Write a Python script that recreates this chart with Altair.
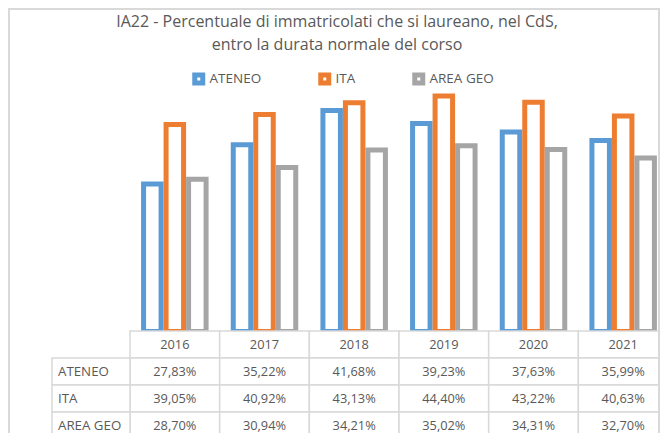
import altair as alt
import pandas as pd

# ---- data ----
years = ["2016", "2017", "2018", "2019", "2020", "2021"]
series = ["ATENEO", "ITA", "AREA GEO"]
ateneo = [27.83, 35.22, 41.68, 39.23, 37.63, 35.99]
ita = [39.05, 40.92, 43.13, 44.40, 43.22, 40.63]
area_geo = [28.70, 30.94, 34.21, 35.02, 34.31, 32.70]
colors = ["#5b9bd5", "#ed7d31", "#a5a5a5"]
title_lines = [
    "IA22 - Percentuale di immatricolati che si laureano, nel CdS,",
    "entro la durata normale del corso",
]
header_key = "ANNO"

# ---- tables ----
rows = []
for s, vals in zip(series, [ateneo, ita, area_geo]):
    for yr, v in zip(years, vals):
        rows.append({"year": yr, "series": s, "row": s, "value": v / 100,
                     "label": f"{v:.2f}".replace(".", ",") + "%"})
df = pd.DataFrame(rows)
header_df = pd.DataFrame({"year": years, "row": header_key, "label": years})
cells_df = pd.concat([header_df[["year", "row"]], df[["year", "row"]]], ignore_index=True)
rowlab_df = pd.DataFrame({"row": series})

TXT = "#595959"
GRID = "#d9d9d9"
FONT = "Open Sans"
W, H = 652, 425

xscale = alt.Scale(domain=years, range=[122, 660], paddingInner=0, paddingOuter=0)
rowscale = alt.Scale(domain=[header_key] + series, range=[323, 431], paddingInner=0, paddingOuter=0)
X = alt.X("year:N", scale=xscale, axis=None)
Yrow = alt.Y("row:N", scale=rowscale, axis=None)

bars = alt.Chart(df).mark_bar(fill="white", strokeWidth=5).encode(
    x=X,
    xOffset=alt.XOffset("series:N", scale=alt.Scale(domain=series, paddingInner=0.222, paddingOuter=0.604)),
    y=alt.Y("value:Q", scale=alt.Scale(domain=[0, 0.5], range=[323.5, 58.3]), axis=None),
    stroke=alt.Stroke(
        "series:N",
        scale=alt.Scale(domain=series, range=colors),
        legend=alt.Legend(
            orient="none", legendX=184, legendY=64, direction="horizontal", title=None,
            symbolType="square", symbolSize=64, symbolStrokeWidth=5, symbolFillColor="white",
            labelFont=FONT, labelFontSize=13.5, labelColor=TXT, labelOffset=4,
            columnPadding=48, padding=0,
        ),
    ),
)

cells = alt.Chart(cells_df).mark_rect(fill="white", stroke=GRID, strokeWidth=1.5).encode(x=X, y=Yrow)
label_cells = alt.Chart(rowlab_df).mark_rect(fill="white", stroke=GRID, strokeWidth=1.5).encode(
    x=alt.value(44), x2=alt.value(122), y=Yrow)

header_txt = alt.Chart(header_df).mark_text(font=FONT, fontSize=12.8, color=TXT).encode(
    x=X, y=Yrow, text="label:N")
value_txt = alt.Chart(df).mark_text(font=FONT, fontSize=12.8, color=TXT).encode(
    x=X, y=Yrow, text="label:N")
row_txt = alt.Chart(rowlab_df).mark_text(font=FONT, fontSize=13.3, color=TXT, align="left").encode(
    x=alt.value(50), y=Yrow, text="row:N")

# chart frame (left, top, right edges; bottom is cut off in the original)
frame_left = alt.Chart(rowlab_df.head(1)).mark_rule(color=GRID, strokeWidth=2).encode(
    x=alt.value(1), y=alt.value(0), y2=alt.value(H))
frame_top = alt.Chart(rowlab_df.head(1)).mark_rule(color=GRID, strokeWidth=2).encode(
    x=alt.value(0), x2=alt.value(W), y=alt.value(1))
frame_right = alt.Chart(rowlab_df.head(1)).mark_rule(color=GRID, strokeWidth=2).encode(
    x=alt.value(W - 1), y=alt.value(0), y2=alt.value(H))

chart = alt.layer(
    bars, cells, label_cells, header_txt, value_txt, row_txt, frame_left, frame_top, frame_right
).resolve_scale(
    y="independent"
).properties(
    width=W, height=H,
    autosize=alt.AutoSizeParams(type="none"),
    padding=0,
    title=alt.Title(title_lines, anchor="middle", frame="group", font=FONT, fontSize=16,
                    fontWeight="normal", color=TXT, lineHeight=23, baseline="top",
                    offset=-46, dx=3),
).configure_view(stroke=None).configure(background="white")

chart.save("out.html", embed_options={"renderer": "svg", "actions": False})
